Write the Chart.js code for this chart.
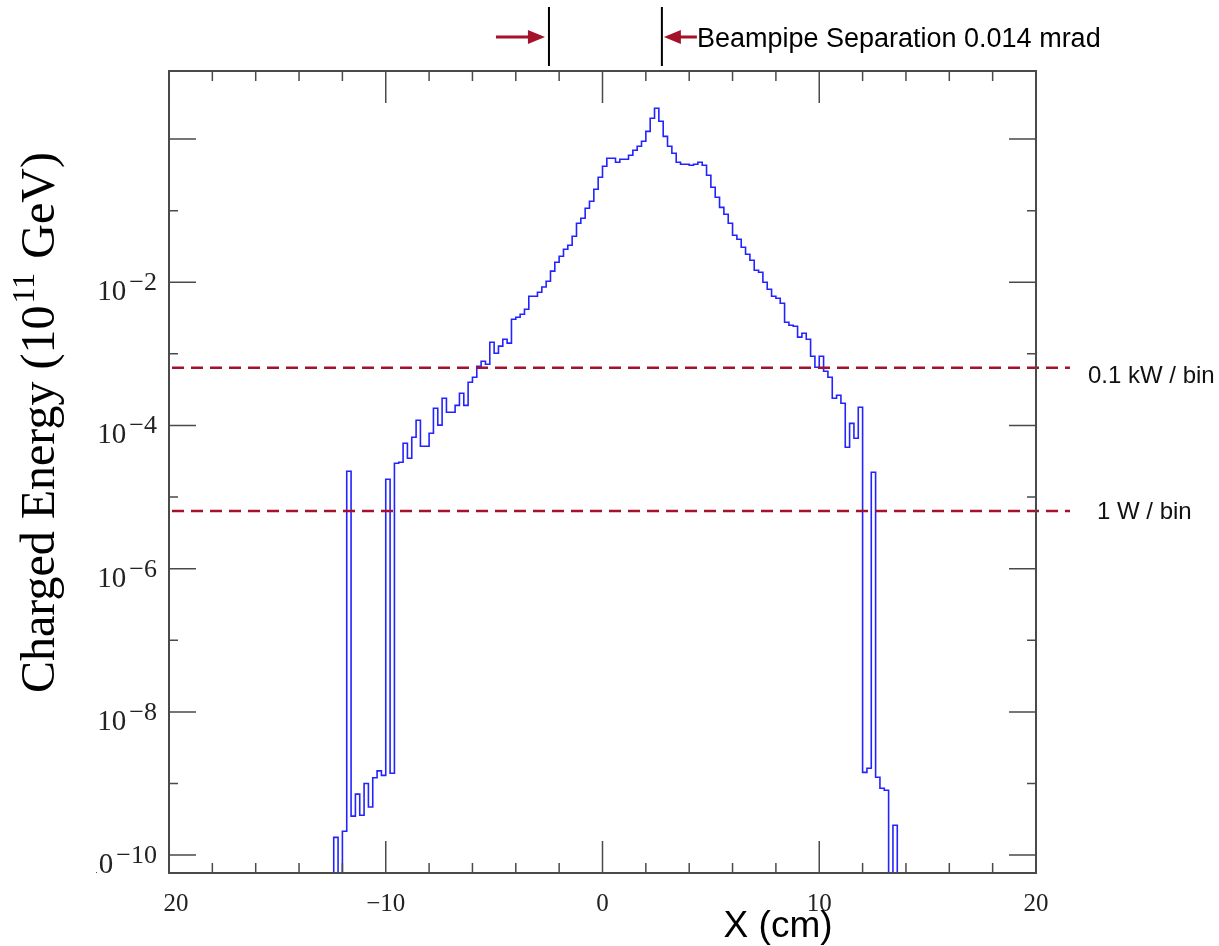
<!DOCTYPE html>
<html>
<head>
<meta charset="utf-8">
<script src="https://cdn.jsdelivr.net/npm/chart.js@4/dist/chart.umd.min.js"></script>
<style>
html, body { margin: 0; padding: 0; background: #fff; }
</style>
</head>
<body>
<canvas id="myChart" width="1219" height="946"></canvas>
<script>
// histogram binning (cm)
var firstEdge = -12.6;
var binWidth = 0.2;

// charged energy per bin (10^11 GeV), 0 = empty bin
var energyNeg = [
  0, 1.77e-10, 0, 2.15e-10, 2.29e-5, 3.5e-10, 7.1e-10, 3.6e-10, 1.0e-9, 4.7e-10,   // -12.6 .. -10.8
  1.2e-9, 1.5e-9, 1.3e-9, 1.77e-5, 1.39e-9, 2.96e-5, 3.06e-5, 5.64e-5, 3.48e-5, 6.84e-5, // -10.6 .. -8.8
  1.18e-4, 5.12e-5, 5.12e-5, 7.78e-5, 1.74e-4, 1.01e-4, 2.40e-4, 1.53e-4, 1.53e-4, 1.91e-4, // -8.6 .. -6.8
  2.82e-4, 1.91e-4, 4.01e-4, 4.71e-4, 6.71e-4, 7.88e-4, 7.16e-4, 1.45e-3, 1.02e-3, 1.28e-3, // -6.6 .. -4.8
  1.60e-3, 1.41e-3, 3.04e-3, 3.24e-3, 3.57e-3, 4.20e-3, 6.37e-3, 6.37e-3, 7.25e-3, 8.6e-3,  // -4.6 .. -2.8
  1.03e-2, 1.43e-2, 1.90e-2, 2.31e-2, 2.89e-2, 3.29e-2, 4.38e-2, 6.67e-2, 7.84e-2, 0.108,   // -2.6 .. -0.8
  0.135, 0.199, 0.292                                                                       // -0.6 .. -0.2
];
var energyPos = [
  0.417, 0.540, 0.540, 0.474, 0.522, 0.522, 0.594, 0.698, 0.793, 0.931,   // 0.0 .. 1.8
  1.28, 1.95, 2.69, 1.77, 1.09, 0.793, 0.634, 0.474, 0.445, 0.445,        // 2.0 .. 3.8
  0.431, 0.445, 0.474, 0.431, 0.312, 0.212, 0.154, 0.111, 0.0891, 0.0667, // 4.0 .. 5.8
  0.0453, 0.0399, 0.0308, 0.0246, 0.0203, 0.0147, 0.0138, 0.0100, 7.98e-3, 6.37e-3, // 6.0 .. 7.8
  5.98e-3, 5.09e-3, 2.76e-3, 2.51e-3, 2.43e-3, 1.71e-3, 1.94e-3, 1.60e-3, 9.25e-4, 6.50e-4, // 8.0 .. 9.8
  9.25e-4, 5.71e-4, 4.71e-4, 2.40e-4, 2.64e-4, 2.04e-4, 4.96e-5, 1.07e-4, 6.62e-5, 1.80e-4, // 10.0 .. 11.8
  1.43e-9, 1.63e-9, 2.22e-5, 1.22e-9, 8.57e-10, 8.03e-10, 0, 2.61e-10, 0                     // 12.0 .. 13.6
];
var energy = energyNeg.concat(energyPos);

// axes
var xMin = -20, xMax = 20;
var xTickValues = [-20, -18, -16, -14, -12, -10, -8, -6, -4, -2, 0, 2, 4, 6, 8, 10, 12, 14, 16, 18, 20];
var xLabelValues = [-20, -10, 0, 10, 20];
var xLabels = ['\u221220', '\u221210', '0', '10', '20'];
var yMinPow = -10.25, yMaxPow = 0.95;
var yTickPowers = [0, -1, -2, -3, -4, -5, -6, -7, -8, -9, -10];
var yLabelPowers = [-2, -4, -6, -8, -10];

// power reference lines
var powerLevels = [6.4e-4, 6.4e-6];
var powerLabels = ['0.1 kW / bin', '1 W / bin'];

// beampipe markers (cm)
var beampipeX = [-2.47, 2.74];
var beampipeText = 'Beampipe Separation 0.014 mrad';

// one point per bin left edge, plus the closing right edge
var points = [];
for (var i = 0; i < energy.length; i++) {
  points.push({ x: firstEdge + i * binWidth, y: energy[i] > 0 ? energy[i] : 1e-14 });
}
points.push({ x: firstEdge + energy.length * binWidth, y: 1e-14 });

var RED = '#a3122a';
var AXIS = '#4a4a4a';

function drawPowerLabel(ctx, p, xRight, y) {
  var exp = (p < 0 ? '\u2212' : '') + Math.abs(p);
  ctx.font = '26px "Liberation Serif"';
  var we = ctx.measureText(exp).width;
  ctx.fillText(exp, xRight - we, y + 8);
  ctx.font = '29px "Liberation Serif"';
  var wb = ctx.measureText('10').width;
  ctx.fillText('10', xRight - we - 3 - wb, y + 18);
}

function arrow(ctx, xFrom, xTip, y) {
  var dir = xTip > xFrom ? 1 : -1;
  ctx.beginPath();
  ctx.moveTo(xFrom, y);
  ctx.lineTo(xTip - dir * 14, y);
  ctx.stroke();
  ctx.beginPath();
  ctx.moveTo(xTip, y);
  ctx.lineTo(xTip - dir * 17, y - 7);
  ctx.lineTo(xTip - dir * 17, y + 7);
  ctx.closePath();
  ctx.fill();
}

var framePlugin = {
  id: 'frame',
  afterDatasetsDraw: function (chart) {
    var ctx = chart.ctx, a = chart.chartArea;
    var xs = chart.scales.x, ys = chart.scales.y;
    ctx.save();

    // dashed power lines
    ctx.strokeStyle = RED;
    ctx.lineWidth = 2.5;
    ctx.setLineDash([12, 7]);
    powerLevels.forEach(function (v) {
      var py = ys.getPixelForValue(v);
      ctx.beginPath();
      ctx.moveTo(a.left + 3, py);
      ctx.lineTo(a.right + 34, py);
      ctx.stroke();
    });
    ctx.setLineDash([]);

    // frame
    ctx.strokeStyle = AXIS;
    ctx.lineWidth = 2;
    ctx.strokeRect(a.left, a.top, a.right - a.left, a.bottom - a.top);

    // x ticks, bottom and top, pointing inward
    ctx.lineWidth = 1.5;
    xTickValues.forEach(function (v) {
      var px = xs.getPixelForValue(v);
      var len = (v % 10 === 0) ? 32 : 10;
      ctx.beginPath();
      ctx.moveTo(px, a.bottom); ctx.lineTo(px, a.bottom - len);
      ctx.moveTo(px, a.top); ctx.lineTo(px, a.top + len);
      ctx.stroke();
    });
    // y ticks, left and right
    yTickPowers.forEach(function (p) {
      var py = ys.getPixelForValue(Math.pow(10, p));
      var len = (p % 2 === 0) ? 27 : 9;
      ctx.beginPath();
      ctx.moveTo(a.left, py); ctx.lineTo(a.left + len, py);
      ctx.moveTo(a.right, py); ctx.lineTo(a.right - len, py);
      ctx.stroke();
    });

    // y tick labels
    ctx.fillStyle = '#222';
    ctx.textAlign = 'left';
    ctx.textBaseline = 'alphabetic';
    ctx.save();
    ctx.beginPath(); ctx.rect(96, 0, 200, chart.height); ctx.clip();
    yLabelPowers.forEach(function (p) {
      drawPowerLabel(ctx, p, a.left - 12, ys.getPixelForValue(Math.pow(10, p)));
    });
    ctx.restore();

    // x tick labels
    ctx.save();
    ctx.beginPath(); ctx.rect(163, a.bottom, chart.width, 100); ctx.clip();
    ctx.font = '25px "Liberation Serif"';
    ctx.textAlign = 'center';
    xLabelValues.forEach(function (v, i) {
      ctx.fillText(xLabels[i], xs.getPixelForValue(v), a.bottom + 38);
    });
    ctx.restore();

    // x title
    ctx.fillStyle = '#000';
    ctx.font = '37px "Liberation Sans"';
    ctx.textAlign = 'center';
    ctx.fillText('X (cm)', xs.getPixelForValue(8.1), a.bottom + 64);

    // y title (rotated)
    ctx.save();
    ctx.translate(54, 693);
    ctx.rotate(-Math.PI / 2);
    ctx.textAlign = 'left';
    ctx.font = '48px "Liberation Serif"';
    var t1 = 'Charged Energy (10';
    ctx.fillText(t1, 0, 0);
    var w1 = ctx.measureText(t1).width;
    ctx.font = '32px "Liberation Serif"';
    ctx.fillText('11', w1 + 2, -20);
    var w2 = ctx.measureText('11').width;
    ctx.font = '48px "Liberation Serif"';
    ctx.fillText(' GeV)', w1 + w2 + 4, 0);
    ctx.restore();

    // power line labels
    ctx.font = '24px "Liberation Sans"';
    ctx.textAlign = 'left';
    ctx.fillStyle = '#111';
    ctx.fillText(powerLabels[0], a.right + 52, ys.getPixelForValue(powerLevels[0]) + 15);
    ctx.fillText(powerLabels[1], a.right + 61, ys.getPixelForValue(powerLevels[1]) + 8);

    // beampipe markers
    var bl = xs.getPixelForValue(beampipeX[0]);
    var br = xs.getPixelForValue(beampipeX[1]);
    ctx.strokeStyle = '#000';
    ctx.lineWidth = 2;
    ctx.beginPath();
    ctx.moveTo(bl, a.top - 64); ctx.lineTo(bl, a.top - 5);
    ctx.moveTo(br, a.top - 64); ctx.lineTo(br, a.top - 5);
    ctx.stroke();
    ctx.strokeStyle = RED;
    ctx.fillStyle = RED;
    ctx.lineWidth = 3;
    arrow(ctx, bl - 53, bl - 4, a.top - 34);
    arrow(ctx, br + 35, br + 2, a.top - 34);
    ctx.fillStyle = '#000';
    ctx.font = '27px "Liberation Sans"';
    ctx.fillText(beampipeText, br + 35, a.top - 24);

    ctx.restore();
  }
};

var ctx = document.getElementById('myChart').getContext('2d');
var chart = new Chart(ctx, {
  type: 'line',
  data: {
    datasets: [{
      label: 'Charged energy',
      data: points,
      stepped: 'before',
      borderColor: 'rgb(35, 35, 255)',
      borderWidth: 1.6,
      pointRadius: 0,
      fill: false
    }]
  },
  options: {
    responsive: false,
    animation: false,
    layout: { padding: { top: 71, right: 183, left: 0, bottom: 0 } },
    plugins: { legend: { display: false }, tooltip: { enabled: false } },
    scales: {
      x: {
        type: 'linear', min: xMin, max: xMax,
        ticks: { display: false }, grid: { display: false }, border: { display: false },
        afterFit: function (s) { s.height = 73; }
      },
      y: {
        type: 'logarithmic', min: Math.pow(10, yMinPow), max: Math.pow(10, yMaxPow),
        ticks: { display: false }, grid: { display: false }, border: { display: false },
        afterFit: function (s) { s.width = 169; }
      }
    }
  },
  plugins: [framePlugin]
});
</script>
</body>
</html>
